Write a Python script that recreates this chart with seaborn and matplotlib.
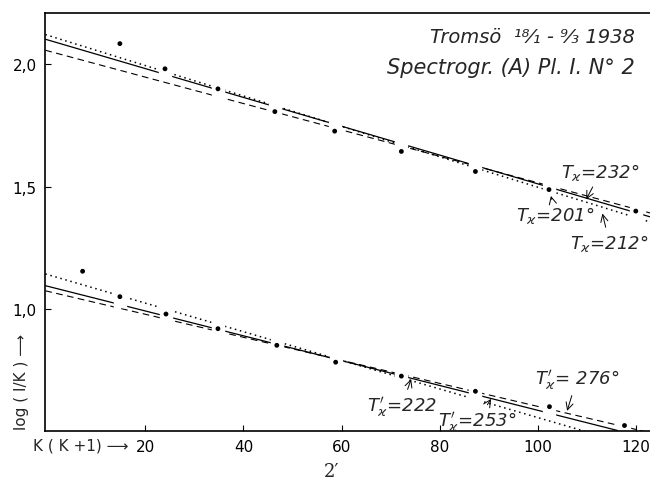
import numpy as np
import pandas as pd
import matplotlib
matplotlib.use("Agg")
import matplotlib.pyplot as plt
from matplotlib.path import Path
import seaborn as sns

# ---- data ----
upper_x = [14.8, 24.0, 34.8, 46.4, 58.6, 72.2, 87.3, 102.3, 120.0]
upper_y = [2.085, 1.982, 1.900, 1.807, 1.727, 1.644, 1.562, 1.488, 1.400]
lower_x = [7.2, 14.8, 24.2, 34.8, 46.8, 58.8, 72.2, 87.3, 102.4, 117.7]
lower_y = [1.154, 1.050, 0.979, 0.919, 0.851, 0.782, 0.725, 0.663, 0.600, 0.523]

# fitted lines: (x_start, x_end), (y_start, y_end)
line_names = ["up_solid", "up_dashed", "up_dotted", "lo_solid", "lo_dashed", "lo_dotted"]
line_x = [(-0.4, 123.0), (-0.4, 123.0), (-0.4, 123.0), (-0.4, 116.8), (-0.4, 121.5), (-0.4, 109.5)]
line_y = [(2.103, 1.376), (2.058, 1.392), (2.122, 1.355), (1.095, 0.500), (1.074, 0.500), (1.143, 0.500)]
line_kind = ["solid", "dashed", "dotted", "solid", "dashed", "dotted"]

xticks = [20, 40, 60, 80, 100, 120]
xticklabels = ["20", "40", "60", "80", "100", "120"]
yticks = [1.0, 1.5, 2.0]
yticklabels = ["1,0", "1,5", "2,0"]

annots = [
    (r"$T_{ϰ}$=232°", (112.8, 1.560), (109.9, 1.448)),
    (r"$T_{ϰ}$=201°", (103.6, 1.386), (102.7, 1.462)),
    (r"$T_{ϰ}$=212°", (114.6, 1.272), (113.2, 1.390)),
    (r"$T^{\prime}_{ϰ}$= 276°", (108.0, 0.713), (106.0, 0.583)),
    (r"$T^{\prime}_{ϰ}$=222", (72.3, 0.603), (74.2, 0.713)),
    (r"$T^{\prime}_{ϰ}$=253°", (87.6, 0.541), (90.5, 0.632)),
]

sns.set_theme(style="ticks")
plt.rcParams["font.family"] = ["DejaVu Sans"]
plt.rcParams["mathtext.fontset"] = "dejavusans"

fig = plt.figure(figsize=(6.5, 4.85), dpi=100)
ax = fig.add_axes([0.069, 0.109, 0.931, 0.862])

styles = {"solid": "-", "dashed": (0, (6, 4)), "dotted": (0, (1, 2.4))}
widths = {"solid": 0.9, "dashed": 0.8, "dotted": 1.1}
for name, xs, ys, kind in zip(line_names, line_x, line_y, line_kind):
    df = pd.DataFrame({"x": list(xs), "y": list(ys)})
    sns.lineplot(data=df, x="x", y="y", ax=ax, color="black",
                 linestyle=styles[kind], linewidth=widths[kind], zorder=2)

all_x = upper_x + lower_x
all_y = upper_y + lower_y
# white vertical gap around each point, breaking the fitted lines
gap = Path([(-0.6, -1), (0.6, -1), (0.6, 1), (-0.6, 1), (-0.6, -1)],
           [Path.MOVETO, Path.LINETO, Path.LINETO, Path.LINETO, Path.CLOSEPOLY])
ax.plot(all_x, all_y, linestyle="none", marker=gap, markersize=15,
        markerfacecolor="white", markeredgecolor="white", zorder=2.2)
pts = pd.DataFrame({"x": all_x, "y": all_y})
sns.scatterplot(data=pts, x="x", y="y", ax=ax, s=12, color="black",
                edgecolor="none", zorder=6)

ax.set_xlim(-0.5, 122.9)
ax.set_ylim(0.5, 2.21)
ax.set_xticks(xticks)
ax.set_xticklabels(xticklabels, fontsize=11)
ax.set_yticks(yticks)
ax.set_yticklabels(yticklabels, fontsize=11)
ax.tick_params(direction="in", length=4, width=0.8, colors="black", pad=6)
for s in ["left", "bottom", "top"]:
    ax.spines[s].set_color("black")
    ax.spines[s].set_linewidth(1.2)
    ax.spines[s].set_zorder(3)
ax.spines["right"].set_visible(False)
ax.set_xlabel("")
ax.set_ylabel("")

for txt, pos, tip in annots:
    ax.annotate(txt, xy=tip, xytext=pos, ha="center", va="center",
                fontsize=13, style="italic", zorder=7,
                arrowprops=dict(arrowstyle="->", lw=0.7, color="black",
                                shrinkA=1, shrinkB=0))

ax.text(0.975, 0.945, "Tromsö  ¹⁸⁄₁ - ⁹⁄₃ 1938", transform=ax.transAxes,
        ha="right", va="center", fontsize=14, style="italic")
ax.text(0.975, 0.871, "Spectrogr. (A) Pl. I. N° 2", transform=ax.transAxes,
        ha="right", va="center", fontsize=15, style="italic")

fig.text(22 / 650, 1 - 382 / 485, "log ( I/K ) ⟶", rotation=90,
         ha="center", va="center", fontsize=11)
fig.text(33 / 650, 1 - 446 / 485, "K ( K +1) ⟶", ha="left", va="center",
         fontsize=11)
fig.text(332 / 650, 1 - 472 / 485, "2′", ha="center", va="center",
         fontsize=13, family="DejaVu Serif")

fig.savefig("out.png", dpi=100)
